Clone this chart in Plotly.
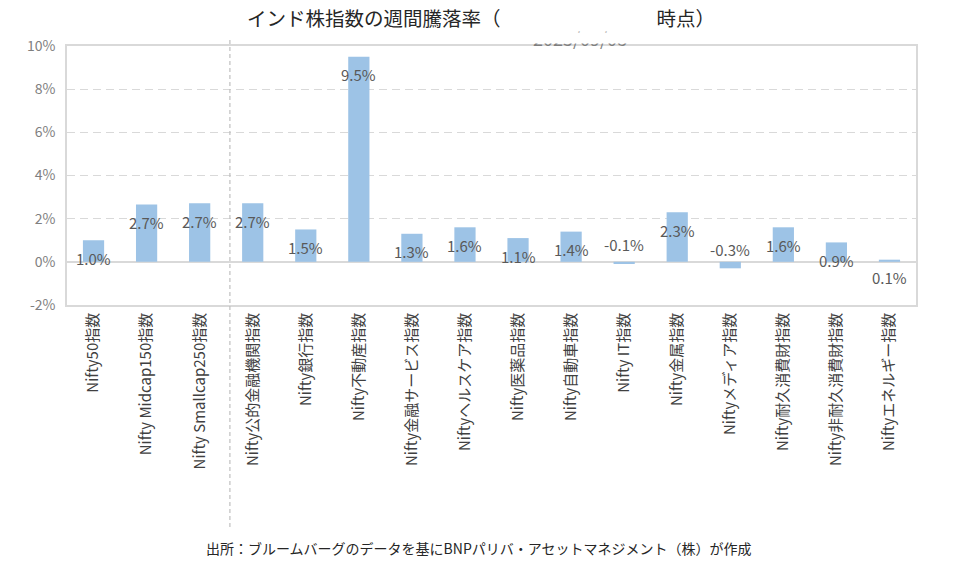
import plotly.graph_objects as go

categories = [
    "Nifty50指数", "Nifty Midcap150指数", "Nifty Smallcap250指数",
    "Nifty公的金融機関指数", "Nifty銀行指数", "Nifty不動産指数",
    "Nifty金融サービス指数", "Niftyヘルスケア指数", "Nifty医薬品指数",
    "Nifty自動車指数", "Nifty IT指数", "Nifty金属指数",
    "Niftyメディア指数", "Nifty耐久消費財指数", "Nifty非耐久消費財指数",
    "Niftyエネルギー指数",
]
values = [1.0, 2.66, 2.72, 2.72, 1.5, 9.5, 1.3, 1.6, 1.1, 1.4, -0.1, 2.3, -0.3, 1.6, 0.9, 0.1]
labels = [f"{v:.1f}%" for v in values]
y_ticks = [-2, 0, 2, 4, 6, 8, 10]
y_tick_text = [f"{t}%" for t in y_ticks]

title_text = "インド株指数の週間騰落率（" + "\u3000" * 8 + "時点）"
date_text = "2025/09/08"
source_text = "出所：ブルームバーグのデータを基にBNPパリバ・アセットマネジメント（株）が作成"

FONT = "Noto Sans CJK JP"
OFF = 8  # page offset of the plot div

# target plot area in window pixels
PL, PR, PT, PB = 67, 916, 46, 305
PH = PB - PT


def py(px):
    return (PB - px) / PH


def pxx(px):
    return (px - PL) / (PR - PL)


fig = go.Figure()
fig.add_trace(go.Bar(
    x=categories, y=values, width=0.4,
    marker=dict(color="#9DC3E6", line=dict(width=0)),
    hoverinfo="skip",
))

annotations = []
for c, v, t in zip(categories, values, labels):
    annotations.append(dict(
        x=c, y=v, xref="x", yref="y", text=t, showarrow=False,
        yanchor="middle", yshift=-18 if v >= 0 else 19,
        font=dict(family=FONT, size=15, color="#595959"),
    ))

# partially hidden date under the title
annotations.append(dict(
    x=pxx(580), y=py(38.5), xref="paper", yref="paper", text=date_text,
    showarrow=False, xanchor="center", yanchor="middle",
    font=dict(family=FONT, size=18, color="#7F7F7F"),
))
annotations.append(dict(
    x=pxx(580), y=py(44.5), xref="paper", yref="paper", text=" ",
    showarrow=False, xanchor="center", yanchor="bottom",
    width=130, height=10, bgcolor="#FFFFFF", borderpad=0,
    font=dict(family=FONT, size=1, color="#FFFFFF"),
))
annotations.append(dict(
    x=pxx(478), y=py(548), xref="paper", yref="paper", text=source_text,
    showarrow=False, xanchor="center", yanchor="middle",
    font=dict(family=FONT, size=14, color="#262626"),
))

fig.update_layout(
    width=960, height=567,
    margin=dict(l=PL - OFF, r=960 - PR + OFF, t=PT - OFF, b=567 - PB + OFF),
    paper_bgcolor="white", plot_bgcolor="white",
    showlegend=False,
    title=dict(text=title_text, x=(481 - OFF) / 960, xref="container", xanchor="center",
               y=1 - (19 - OFF) / 567, yref="container", yanchor="middle",
               font=dict(family=FONT, size=19.5, color="#262626")),
    annotations=annotations,
    shapes=[dict(type="line", xref="x", yref="paper", x0=2.57, x1=2.57,
                 y0=py(527), y1=py(38),
                 line=dict(color="#BFBFBF", width=1.2, dash="4px,3px"))],
)
fig.update_xaxes(
    type="category", tickangle=-90, showgrid=False,
    showline=True, mirror=True, linecolor="#D9D9D9", linewidth=1.5,
    ticks="", tickfont=dict(family=FONT, size=15, color="#404040"),
)
fig.update_yaxes(
    range=[-2, 10], tickvals=y_ticks, ticktext=y_tick_text,
    showgrid=True, gridcolor="#D9D9D9", griddash="8px,5px", gridwidth=1,
    zeroline=True, zerolinecolor="#D9D9D9", zerolinewidth=1.5,
    showline=True, mirror=True, linecolor="#D9D9D9", linewidth=1.5,
    ticks="", ticklabelstandoff=7,
    tickfont=dict(family=FONT, size=14, color="#7F7F7F"),
)

fig.write_html("out.html")
